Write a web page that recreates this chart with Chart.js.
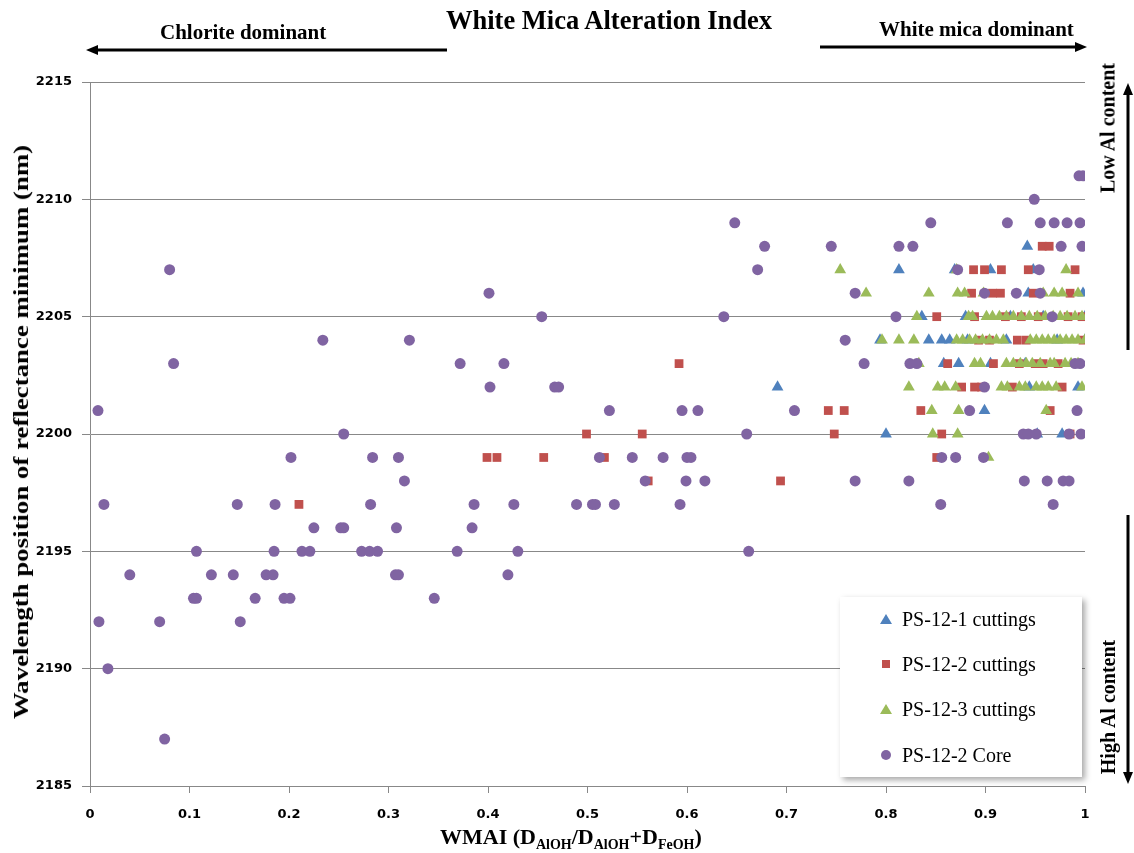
<!DOCTYPE html>
<html>
<head>
<meta charset="utf-8">
<script src="https://cdn.jsdelivr.net/npm/chart.js@4.4.1/dist/chart.umd.min.js"></script>
<style>
  body { margin: 0; background: #fff; }
  #wrap { position: relative; width: 1134px; height: 853px; }
  .lbl { position: absolute; font-family: "Liberation Serif", serif; font-weight: bold; color: #000; white-space: nowrap; }
  .rot { transform: translate(-50%, -50%) rotate(-90deg); }
  #legend { position: absolute; left: 840px; top: 597px; width: 242px; height: 180px; background: #fff;
            box-shadow: 3px 3px 6px rgba(0,0,0,0.35); font-family: "Liberation Serif", serif; font-size: 20px; }
  .item { position: absolute; left: 0; height: 24px; line-height: 24px; }
  .item span { position: absolute; left: 62px; top: 0; white-space: nowrap; }
  .mk { position: absolute; }
</style>
</head>
<body>
<div id="wrap">
  <canvas id="chart" width="1134" height="853"></canvas>

  <div class="lbl" style="left:446px;top:5px;font-size:26.5px;">White Mica Alteration Index</div>
  <div class="lbl" style="left:160px;top:20px;font-size:21px;">Chlorite dominant</div>
  <div class="lbl" style="left:879px;top:17px;font-size:21px;">White mica dominant</div>
  <div class="lbl" style="left:21px;top:432px;font-size:22px;transform:translate(-50%,-50%) rotate(-90deg) scaleX(1.22);">Wavelength position of reflectance minimum (nm)</div>
  <div class="lbl" style="left:440px;top:824px;font-size:22px;">WMAI (D<sub style="font-size:14px">AlOH</sub>/D<sub style="font-size:14px">AlOH</sub>+D<sub style="font-size:14px">FeOH</sub>)</div>
  <div class="lbl rot" style="left:1108px;top:128px;font-size:20px;">Low Al content</div>
  <div class="lbl rot" style="left:1108px;top:707px;font-size:20px;">High Al content</div>

  <svg width="1134" height="853" style="position:absolute;left:0;top:0;pointer-events:none">
    <line x1="447" y1="50" x2="96" y2="50" stroke="#000" stroke-width="3"/>
    <polygon points="86,50 98,45 98,55" fill="#000"/>
    <line x1="820" y1="47" x2="1077" y2="47" stroke="#000" stroke-width="3"/>
    <polygon points="1087,47 1075,42 1075,52" fill="#000"/>
    <line x1="1128" y1="93" x2="1128" y2="350" stroke="#000" stroke-width="3"/>
    <polygon points="1128,83 1123,95 1133,95" fill="#000"/>
    <line x1="1128" y1="515" x2="1128" y2="774" stroke="#000" stroke-width="3"/>
    <polygon points="1128,784 1123,772 1133,772" fill="#000"/>
  </svg>

  <div id="legend">
    <div class="item" style="top:10px;">
      <div class="mk" style="left:40px;top:7px;width:0;height:0;border-left:6px solid transparent;border-right:6px solid transparent;border-bottom:10px solid #4F81BD;"></div>
      <span>PS-12-1 cuttings</span>
    </div>
    <div class="item" style="top:55px;">
      <div class="mk" style="left:42px;top:8px;width:8px;height:8px;background:#C0504D;"></div>
      <span>PS-12-2 cuttings</span>
    </div>
    <div class="item" style="top:100px;">
      <div class="mk" style="left:40px;top:7px;width:0;height:0;border-left:6px solid transparent;border-right:6px solid transparent;border-bottom:10px solid #9BBB59;"></div>
      <span>PS-12-3 cuttings</span>
    </div>
    <div class="item" style="top:146px;">
      <div class="mk" style="left:41px;top:7px;width:10px;height:10px;border-radius:50%;background:#8064A2;"></div>
      <span>PS-12-2 Core</span>
    </div>
  </div>
</div>

<script>
// tick labels
const xTickLabels = ['0', '0.1', '0.2', '0.3', '0.4', '0.5', '0.6', '0.7', '0.8', '0.9', '1'];
const yTickLabels = ['2185', '2190', '2195', '2200', '2205', '2210', '2215'];

// series names
const seriesNames = ['PS-12-1 cuttings', 'PS-12-2 cuttings', 'PS-12-3 cuttings', 'PS-12-2 Core'];

// PS-12-1 cuttings [WMAI, wavelength]
const ps121Cuttings = [
  [0.942, 2208],
  [0.813, 2207], [0.869, 2207], [0.905, 2207], [0.948, 2207],
  [0.943, 2206], [0.998, 2206],
  [0.836, 2205], [0.880, 2205], [0.925, 2205], [0.958, 2205], [1.0, 2205],
  [0.794, 2204], [0.843, 2204], [0.856, 2204], [0.864, 2204], [0.882, 2204], [0.921, 2204], [0.972, 2204], [1.0, 2204],
  [0.858, 2203], [0.873, 2203], [0.905, 2203], [0.940, 2203],
  [0.691, 2202], [0.944, 2202], [0.993, 2202],
  [0.899, 2201],
  [0.800, 2200], [0.952, 2200], [0.977, 2200]
];

// PS-12-2 cuttings
const ps122Cuttings = [
  [0.957, 2208], [0.964, 2208],
  [0.888, 2207], [0.899, 2207], [0.916, 2207], [0.943, 2207], [0.990, 2207],
  [0.886, 2206], [0.907, 2206], [0.915, 2206], [0.948, 2206], [0.985, 2206],
  [0.851, 2205], [0.889, 2205], [0.920, 2205], [0.936, 2205], [0.953, 2205], [0.983, 2205], [0.997, 2205],
  [0.893, 2204], [0.904, 2204], [0.932, 2204], [0.941, 2204], [0.998, 2204],
  [0.592, 2203], [0.862, 2203], [0.908, 2203], [0.934, 2203], [0.950, 2203], [0.958, 2203], [0.973, 2203],
  [0.876, 2202], [0.889, 2202], [0.896, 2202], [0.927, 2202], [0.977, 2202],
  [0.742, 2201], [0.758, 2201], [0.835, 2201], [0.965, 2201],
  [0.499, 2200], [0.555, 2200], [0.748, 2200], [0.856, 2200], [0.985, 2200],
  [0.399, 2199], [0.409, 2199], [0.456, 2199], [0.517, 2199], [0.851, 2199],
  [0.561, 2198], [0.694, 2198],
  [0.210, 2197]
];

// PS-12-3 cuttings
const ps123Cuttings = [
  [0.754, 2207], [0.871, 2207], [0.981, 2207],
  [0.780, 2206], [0.843, 2206], [0.872, 2206], [0.879, 2206], [0.898, 2206], [0.958, 2206], [0.969, 2206], [0.977, 2206], [0.993, 2206],
  [0.831, 2205], [0.883, 2205], [0.887, 2205], [0.901, 2205], [0.907, 2205], [0.914, 2205], [0.921, 2205], [0.928, 2205],
  [0.936, 2205], [0.944, 2205], [0.952, 2205], [0.960, 2205], [0.968, 2205], [0.975, 2205], [0.982, 2205], [0.990, 2205], [0.997, 2205],
  [0.796, 2204], [0.813, 2204], [0.828, 2204], [0.871, 2204], [0.877, 2204], [0.884, 2204], [0.890, 2204], [0.897, 2204],
  [0.904, 2204], [0.911, 2204], [0.918, 2204], [0.945, 2204], [0.951, 2204], [0.957, 2204], [0.963, 2204], [0.969, 2204],
  [0.975, 2204], [0.981, 2204], [0.987, 2204], [0.993, 2204], [1.0, 2204],
  [0.833, 2203], [0.889, 2203], [0.895, 2203], [0.921, 2203], [0.928, 2203], [0.935, 2203], [0.941, 2203], [0.947, 2203],
  [0.955, 2203], [0.965, 2203], [0.969, 2203], [0.980, 2203], [0.986, 2203], [0.993, 2203],
  [0.823, 2202], [0.852, 2202], [0.859, 2202], [0.870, 2202], [0.916, 2202], [0.922, 2202], [0.934, 2202], [0.940, 2202],
  [0.951, 2202], [0.957, 2202], [0.963, 2202], [0.971, 2202], [0.997, 2202],
  [0.846, 2201], [0.873, 2201], [0.961, 2201],
  [0.847, 2200], [0.872, 2200],
  [0.903, 2199]
];

// PS-12-2 core
const ps122Core = [
  [0.994, 2211], [0.998, 2211],
  [0.949, 2210],
  [0.648, 2209], [0.845, 2209], [0.922, 2209], [0.955, 2209], [0.969, 2209], [0.982, 2209], [0.995, 2209],
  [0.678, 2208], [0.745, 2208], [0.813, 2208], [0.827, 2208], [0.976, 2208], [0.997, 2208],
  [0.080, 2207], [0.671, 2207], [0.872, 2207], [0.954, 2207],
  [0.401, 2206], [0.769, 2206], [0.899, 2206], [0.931, 2206], [0.955, 2206],
  [0.454, 2205], [0.637, 2205], [0.810, 2205], [0.967, 2205],
  [0.234, 2204], [0.321, 2204], [0.759, 2204],
  [0.084, 2203], [0.372, 2203], [0.416, 2203], [0.778, 2203], [0.824, 2203], [0.831, 2203], [0.990, 2203], [0.995, 2203],
  [0.402, 2202], [0.467, 2202], [0.471, 2202], [0.899, 2202],
  [0.008, 2201], [0.522, 2201], [0.595, 2201], [0.611, 2201], [0.708, 2201], [0.884, 2201], [0.992, 2201],
  [0.255, 2200], [0.660, 2200], [0.938, 2200], [0.943, 2200], [0.951, 2200], [0.984, 2200], [0.996, 2200],
  [0.202, 2199], [0.284, 2199], [0.310, 2199], [0.512, 2199], [0.545, 2199], [0.576, 2199], [0.600, 2199], [0.604, 2199],
  [0.856, 2199], [0.870, 2199], [0.898, 2199],
  [0.316, 2198], [0.558, 2198], [0.599, 2198], [0.618, 2198], [0.769, 2198], [0.823, 2198], [0.939, 2198], [0.962, 2198],
  [0.978, 2198], [0.984, 2198],
  [0.014, 2197], [0.148, 2197], [0.186, 2197], [0.282, 2197], [0.386, 2197], [0.426, 2197], [0.489, 2197], [0.505, 2197],
  [0.508, 2197], [0.527, 2197], [0.593, 2197], [0.855, 2197], [0.968, 2197],
  [0.225, 2196], [0.252, 2196], [0.255, 2196], [0.308, 2196], [0.384, 2196],
  [0.107, 2195], [0.185, 2195], [0.213, 2195], [0.221, 2195], [0.273, 2195], [0.281, 2195], [0.289, 2195], [0.369, 2195],
  [0.430, 2195], [0.662, 2195],
  [0.040, 2194], [0.122, 2194], [0.144, 2194], [0.177, 2194], [0.184, 2194], [0.307, 2194], [0.310, 2194], [0.420, 2194],
  [0.104, 2193], [0.107, 2193], [0.166, 2193], [0.195, 2193], [0.201, 2193], [0.346, 2193],
  [0.009, 2192], [0.070, 2192], [0.151, 2192],
  [0.018, 2190],
  [0.075, 2187]
];

const toPoints = arr => arr.map(p => ({ x: p[0], y: p[1] }));

const tickFont = { family: 'DejaVu Sans', weight: 'bold', size: 13 };

// core listed first so it is drawn on top (chart.js draws the first dataset last)
new Chart(document.getElementById('chart'), {
  type: 'scatter',
  data: {
    datasets: [
      { label: seriesNames[3], data: toPoints(ps122Core), pointStyle: 'circle', pointRadius: 5.5,
        backgroundColor: '#8064A2', borderWidth: 0 },
      { label: seriesNames[2], data: toPoints(ps123Cuttings), pointStyle: 'triangle', pointRadius: 6.8,
        backgroundColor: '#9BBB59', borderWidth: 0 },
      { label: seriesNames[1], data: toPoints(ps122Cuttings), pointStyle: 'rect', pointRadius: 6.2,
        backgroundColor: '#C0504D', borderWidth: 0 },
      { label: seriesNames[0], data: toPoints(ps121Cuttings), pointStyle: 'triangle', pointRadius: 6.8,
        backgroundColor: '#4F81BD', borderWidth: 0 }
    ]
  },
  options: {
    responsive: false,
    animation: false,
    layout: { padding: { left: 30, top: 82, right: 49, bottom: 27 } },
    plugins: { legend: { display: false }, tooltip: { enabled: false } },
    scales: {
      x: {
        type: 'linear', min: 0, max: 1,
        ticks: { stepSize: 0.1, font: tickFont, color: '#000', padding: 14, maxRotation: 0,
                 callback: (v, i) => xTickLabels[i] },
        grid: { drawOnChartArea: false, drawTicks: true, tickLength: 7, color: '#888' },
        border: { color: '#888' },
        afterFit: scale => { scale.height = 40; }
      },
      y: {
        min: 2185, max: 2215,
        ticks: { stepSize: 5, font: tickFont, color: '#000', padding: 10,
                 callback: (v, i) => yTickLabels[i] },
        grid: { color: '#888', tickLength: 8 },
        border: { color: '#888' },
        afterFit: scale => { scale.width = 60; }
      }
    }
  }
});
</script>
</body>
</html>
